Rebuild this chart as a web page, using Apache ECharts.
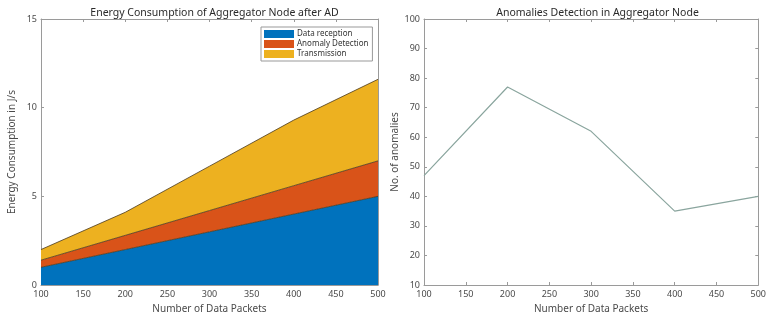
<!DOCTYPE html>
<html><head><meta charset="utf-8">
<script src="https://cdn.jsdelivr.net/npm/echarts@6/dist/echarts.min.js"></script>
<style>html,body{margin:0;padding:0;background:#fff}#c{width:769px;height:322px}</style>
</head><body><div id="c"></div>
<script>
var packets = [100, 200, 300, 400, 500];
var dataReception = [1.0, 2.0, 3.0, 4.0, 5.0];
var anomalyDetection = [0.4, 0.8, 1.2, 1.6, 2.0];
var transmission = [0.6, 1.3, 2.5, 3.7, 4.6];
var anomalies = [47, 77, 62, 35, 40];

function pairs(ys){ return packets.map(function(x,i){return [x, ys[i]];}); }
// y first so that ECharts stacks the value dimension
function yxPairs(ys){ return packets.map(function(x,i){return [ys[i], x];}); }

var axisCol = '#9a9a9a', txt = '#4a4a4a', ff = 'Noto Sans';
function xAx(grid, pos, show){
  return {type:'value', gridIndex:grid, position:pos, min:100, max:500, interval:50,
    name: show ? 'Number of Data Packets' : '', nameLocation:'middle', nameGap:16,
    nameTextStyle:{color:txt, fontSize:10, fontFamily:ff},
    axisLine:{show:true, onZero:false, lineStyle:{color:axisCol, width:1}},
    axisTick:{show:true, inside:true, length:3, lineStyle:{color:axisCol}},
    axisLabel:{show:show, color:txt, fontSize:9, fontFamily:ff, margin:5},
    splitLine:{show:false}};
}
function yAx(grid, pos, show, min, max, iv, name){
  return {type:'value', gridIndex:grid, position:pos, min:min, max:max, interval:iv,
    name: show ? name : '', nameLocation:'middle', nameGap:24,
    nameTextStyle:{color:txt, fontSize:10, fontFamily:ff},
    axisLine:{show:true, onZero:false, lineStyle:{color:axisCol, width:1}},
    axisTick:{show:true, inside:true, length:3, lineStyle:{color:axisCol}},
    axisLabel:{show:show, color:txt, fontSize:9, fontFamily:ff, margin:4},
    splitLine:{show:false}};
}
function area(name, ys, color){
  return {name:name, type:'line', xAxisIndex:0, yAxisIndex:0, stack:'e', data:yxPairs(ys),
    encode:{x:1, y:0},
    symbol:'none', itemStyle:{color:color},
    lineStyle:{color:'#4a3a20', width:0.8}, areaStyle:{color:color, opacity:1}};
}
var chart = echarts.init(document.getElementById('c'), null, {renderer:'canvas'});
chart.setOption({
  animation:false,
  backgroundColor:'#fff',
  title:[
    {text:'Energy Consumption of Aggregator Node after AD', left:209.5, textAlign:'center', top:3,
     textStyle:{fontSize:10.5, fontWeight:'normal', color:'#2a2a2a', fontFamily:ff}},
    {text:'Anomalies Detection in Aggregator Node', left:592.5, textAlign:'center', top:3,
     textStyle:{fontSize:10.5, fontWeight:'normal', color:'#2a2a2a', fontFamily:ff}}
  ],
  legend:{orient:'vertical', left:261, top:27, itemWidth:30, itemHeight:8, itemGap:2,
    padding:[3,4,3,3], borderColor:'#999', borderWidth:1, backgroundColor:'#fff',
    icon:'rect', data:['Data reception','Anomaly Detection','Transmission'],
    textStyle:{fontSize:8, color:'#333', fontFamily:ff, padding:[0,0,0,-2]}},
  grid:[
    {left:41, right:391, top:19, bottom:37},
    {left:424, right:8, top:19, bottom:37}
  ],
  xAxis:[xAx(0,'bottom',true), xAx(0,'top',false), xAx(1,'bottom',true), xAx(1,'top',false)],
  yAxis:[
    yAx(0,'left',true,0,15,5,'Energy Consumption in J/s'), yAx(0,'right',false,0,15,5,''),
    yAx(1,'left',true,10,100,10,'No. of anomalies'), yAx(1,'right',false,10,100,10,'')
  ],
  series:[
    area('Data reception', dataReception, '#0072BD'),
    area('Anomaly Detection', anomalyDetection, '#D95319'),
    area('Transmission', transmission, '#EDB120'),
    {name:'Anomalies', type:'line', xAxisIndex:2, yAxisIndex:2, data:pairs(anomalies),
     symbol:'none', lineStyle:{color:'#8aa59e', width:1.2}}
  ]
});
</script></body></html>
